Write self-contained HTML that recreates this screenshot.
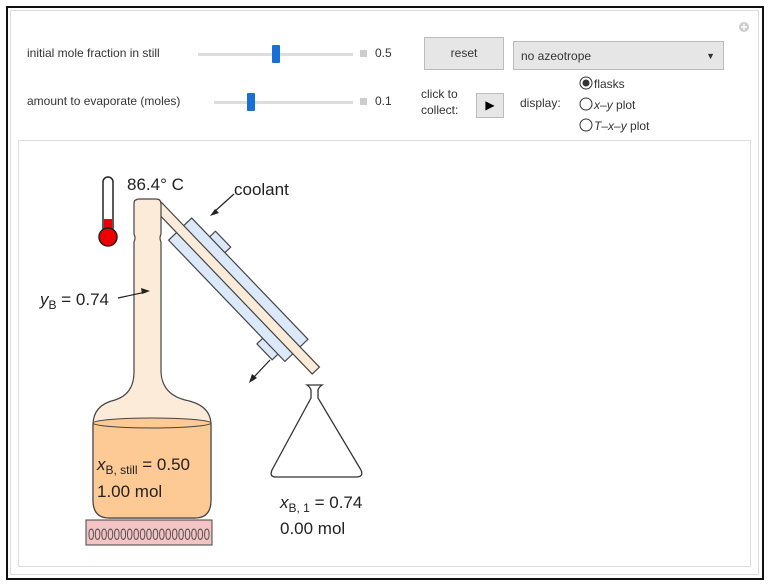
<!DOCTYPE html>
<html><head><style>
body{margin:0;width:768px;height:584px;background:#fff;font-family:"Liberation Sans",sans-serif;overflow:hidden;position:relative}
.a{position:absolute}
.t{font-size:12px;color:#333}
</style></head><body>
<div class="a" style="left:6px;top:6px;width:754px;height:570px;border:2px solid #111"></div>
<div class="a" style="left:10px;top:10px;width:747px;height:563px;border:1px solid #ddd"></div>
<div class="a" style="left:18px;top:140px;width:731px;height:425px;border:1px solid #ddd;background:#fff"></div>
<div class="a t" style="left:27px;top:46px">initial mole fraction in still</div>
<div class="a" style="left:198px;top:53px;width:155px;height:3px;background:#ddd"></div>
<div class="a" style="left:272px;top:45px;width:8px;height:18px;background:#1a6fd6;border-radius:1px"></div>
<div class="a" style="left:360px;top:50px;width:7px;height:7px;background:#ccc"></div>
<div class="a t" style="left:375px;top:46px">0.5</div>
<div class="a t" style="left:27px;top:94px">amount to evaporate (moles)</div>
<div class="a" style="left:214px;top:101px;width:139px;height:3px;background:#ddd"></div>
<div class="a" style="left:247px;top:93px;width:8px;height:18px;background:#1a6fd6;border-radius:1px"></div>
<div class="a" style="left:360px;top:98px;width:7px;height:7px;background:#ccc"></div>
<div class="a t" style="left:375px;top:94px">0.1</div>
<div class="a t" style="left:424px;top:37px;width:78px;height:31px;border:1px solid #bbb;background:#e6e6e6;text-align:center;line-height:31px">reset</div>
<div class="a t" style="left:513px;top:41px;width:209px;height:27px;border:1px solid #bbb;background:#e6e6e6;line-height:28px;text-indent:7px">no azeotrope<span style="position:absolute;right:8px;top:0;font-size:9px">▼</span></div>
<div class="a t" style="left:421px;top:86px;line-height:16px">click to<br>collect:</div>
<div class="a" style="left:476px;top:93px;width:26px;height:23px;border:1px solid #bbb;background:#e6e6e6;text-align:center;line-height:23px;font-size:12px">▶</div>
<div class="a t" style="left:520px;top:96px">display:</div>
<svg class="a" style="left:0;top:0" width="768" height="584">
<circle cx="744" cy="27" r="5" fill="#ccc"/><path d="M741 27h6M744 24v6" stroke="#fff" stroke-width="1.5"/>
<circle cx="586" cy="83" r="6" fill="#fff" stroke="#333"/><circle cx="586" cy="83" r="3.5" fill="#333"/>
<circle cx="586" cy="104" r="6" fill="#fff" stroke="#333"/>
<circle cx="586" cy="125" r="6" fill="#fff" stroke="#333"/>
<text x="594" y="88" font-size="12" fill="#333">flasks</text>
<text x="594" y="109" font-size="12" fill="#333"><tspan font-style="italic">x</tspan>–<tspan font-style="italic">y</tspan> plot</text>
<text x="594" y="130" font-size="12" fill="#333"><tspan font-style="italic">T</tspan>–<tspan font-style="italic">x</tspan>–<tspan font-style="italic">y</tspan> plot</text>
<!-- side arm -->
<g transform="translate(158,206) rotate(46.2)">
<path d="M58 -16 V-24 H80 V-16 M168 16 V24 H190 V16" fill="#dbe9fa" stroke="#444" stroke-width="1.2"/>
<rect x="32" y="-16" width="168" height="32" fill="#dbe9fa" stroke="#444" stroke-width="1.2"/>
<rect x="0" y="-5" width="228" height="10" fill="#fdebd9" stroke="#444" stroke-width="1.2"/>
</g>
<!-- column + still -->
<path d="M136 200 Q136 199 140 199 H156 Q161 199 161 204 V234 Q159 238 161 242 V372 Q162 394 185 400 Q211 405 211 425 V500 Q211 518 195 518 H109 Q93 518 93 500 V425 Q93 405 115 400 Q134 394 134 372 V242 Q136 238 134 234 V204 Q134 200 136 200 Z" fill="#fdebd9" stroke="#444" stroke-width="1.2"/>
<path d="M93 423 Q152 416 211 423 V500 Q211 518 195 518 H109 Q93 518 93 500 Z" fill="#fdc994" stroke="#444" stroke-width="1.2"/>
<ellipse cx="152" cy="423" rx="59" ry="5" fill="#fdc994" stroke="#444" stroke-width="1"/>
<rect x="86" y="520" width="126" height="25" fill="#f4c4c4" stroke="#444"/>
<text x="88" y="540" font-size="17" fill="#555" textLength="122" lengthAdjust="spacingAndGlyphs">0000000000000000000</text>
<!-- thermometer -->
<rect x="103" y="177" width="10" height="56" rx="5" fill="#fff" stroke="#222" stroke-width="1.5"/>
<rect x="104" y="219" width="8" height="14" fill="#e00"/>
<circle cx="108" cy="237" r="9" fill="#e00" stroke="#222" stroke-width="1.5"/>
<!-- erlenmeyer -->
<path d="M307 385 H322 Q319 387 318 390 V398 L361 470 Q364 477 356 477 H276 Q269 477 272 470 L311 398 V390 Q310 387 307 385 Z" fill="#fff" stroke="#333" stroke-width="1.3"/>
<!-- labels -->
<text x="127" y="190" font-size="17" fill="#222">86.4° C</text>
<text x="234" y="195" font-size="17" fill="#222">coolant</text>
<path d="M234 194 L214 212" stroke="#222" stroke-width="1.2"/><path d="M210 216 l9 -3 l-4 -4z" fill="#222"/>
<text x="40" y="305" font-size="17" fill="#222"><tspan font-style="italic">y</tspan><tspan font-size="12" dy="4">B</tspan><tspan dy="-4"> = 0.74</tspan></text>
<path d="M118 298 L146 292" stroke="#222" stroke-width="1.2"/><path d="M150 291 l-9 -3 l1 6z" fill="#222"/>
<path d="M270 360 L253 378" stroke="#222" stroke-width="1.2"/><path d="M249 383 l3 -9 l5 4z" fill="#222"/>
<text x="97" y="470" font-size="17" fill="#222"><tspan font-style="italic">x</tspan><tspan font-size="12" dy="4">B, still</tspan><tspan dy="-4"> = 0.50</tspan></text>
<text x="97" y="497" font-size="17" fill="#222">1.00 mol</text>
<text x="280" y="508" font-size="17" fill="#222"><tspan font-style="italic">x</tspan><tspan font-size="12" dy="4">B, 1</tspan><tspan dy="-4"> = 0.74</tspan></text>
<text x="280" y="534" font-size="17" fill="#222">0.00 mol</text>
</svg>
</body></html>
